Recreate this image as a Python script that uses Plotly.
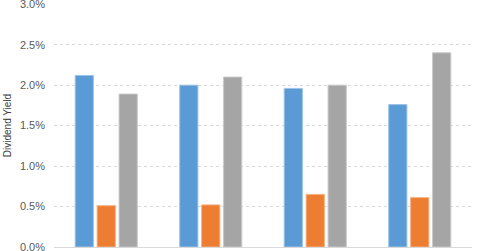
import plotly.graph_objects as go

categories = ["A", "B", "C", "D"]
series_1 = [0.0212, 0.0200, 0.0196, 0.0176]
series_2 = [0.0051, 0.0052, 0.0065, 0.0061]
series_3 = [0.0189, 0.0210, 0.0200, 0.0240]
y_ticks = [0, 0.005, 0.010, 0.015, 0.020, 0.025, 0.030]

fig = go.Figure()
for name, vals, col, edge in [
    ("Series 1", series_1, "#5B9BD5", "#9DC3E6"),
    ("Series 2", series_2, "#ED7D31", "#F4B183"),
    ("Series 3", series_3, "#A5A5A5", "#C9C9C9"),
]:
    fig.add_trace(go.Bar(x=categories, y=vals, name=name,
                         marker=dict(color=col, line=dict(color=edge, width=1))))

fig.update_layout(
    width=480, height=251,
    margin=dict(l=54, r=8, t=4, b=4, autoexpand=False),
    paper_bgcolor="white", plot_bgcolor="white",
    barmode="group", bargap=0.37, bargroupgap=0.17,
    showlegend=False,
    font=dict(family="Liberation Sans, Arial, sans-serif", color="#595959", size=11),
)
fig.update_xaxes(showticklabels=False, showgrid=False, showline=True,
                 linecolor="#D9D9D9", linewidth=1, ticks="", automargin=False)
fig.update_yaxes(range=[0, 0.03003], tickvals=y_ticks, tickformat=".1%",
                 showgrid=True, gridcolor="#D9D9D9", griddash="dot", gridwidth=1,
                 zeroline=False, showline=False, ticks="", automargin=False,
                 ticklabeloverflow="allow", ticklabelstandoff=8,
                 title=dict(text="Dividend Yield", font=dict(size=10, color="#404040"), standoff=6),
                 tickfont=dict(size=11))

fig.write_html("out.html")
